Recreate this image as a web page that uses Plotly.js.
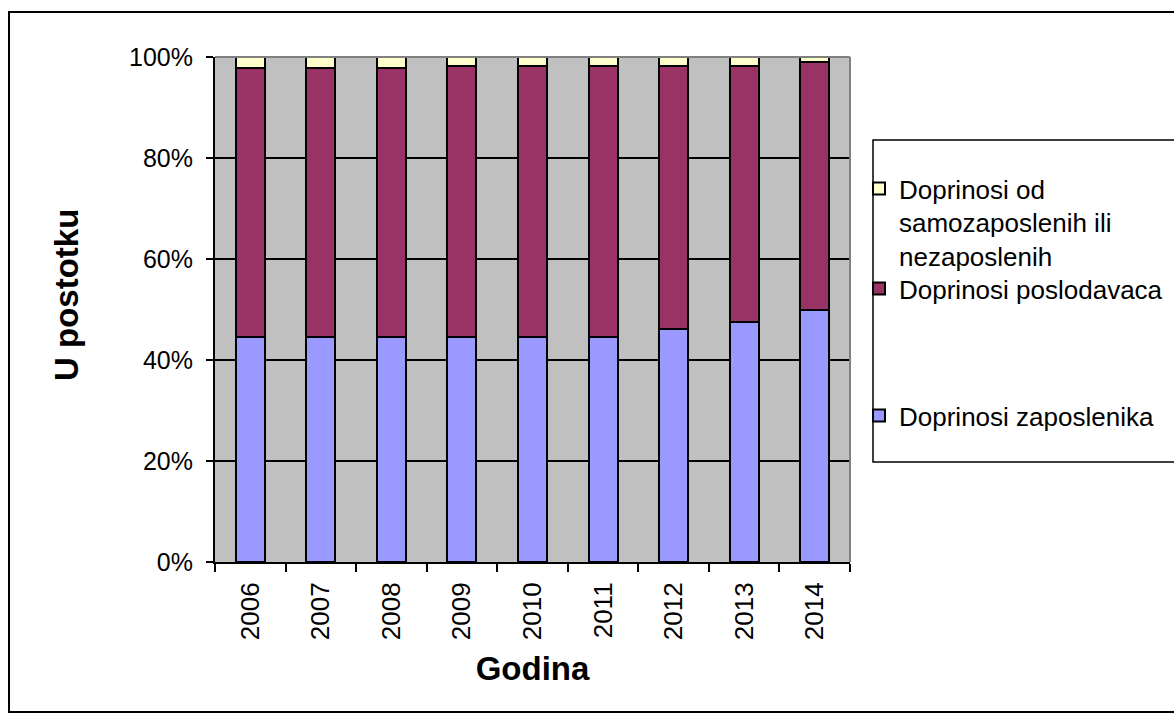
<!DOCTYPE html>
<html>
<head>
<meta charset="utf-8">
<script src="https://cdn.plot.ly/plotly-3.0.1.min.js"></script>
<style>
  html, body { margin: 0; padding: 0; background: #ffffff; }
  #chart { width: 1174px; height: 722px; }
</style>
</head>
<body>
<div id="chart"></div>
<script>
const years = ['2006', '2007', '2008', '2009', '2010', '2011', '2012', '2013', '2014'];
const employees = [44.5, 44.5, 44.5, 44.5, 44.5, 44.5, 46.2, 47.5, 49.9];
const employers = [53.3, 53.3, 53.3, 53.7, 53.7, 53.7, 52.0, 50.7, 49.2];
const selfEmployed = [2.2, 2.2, 2.2, 1.8, 1.8, 1.8, 1.8, 1.8, 0.9];
const yTickVals = [0, 20, 40, 60, 80, 100];
const yTickText = ['0%', '20%', '40%', '60%', '80%', '100%'];

const nameEmployees = 'Doprinosi zaposlenika';
const nameEmployers = 'Doprinosi poslodavaca';
const nameSelf = 'Doprinosi od<br>samozaposlenih ili<br>nezaposlenih';
const yTitle = 'U postotku';
const xTitle = 'Godina';

const FONT = 'Arial, "Liberation Sans", sans-serif';

// pixel geometry helpers
const L = 215, R = 850, T = 57, B = 562, W = 1174, H = 722;
const px = v => (v - L) / (R - L);
const py = v => (B - v) / (B - T);
const cx = v => v / W;
const cy = v => 1 - v / H;

const barLine = { color: '#000000', width: 2 };

const traces = [
  { type: 'bar', x: years, y: employees, name: nameEmployees,
    marker: { color: '#9999ff', line: barLine }, legend: 'legend3' },
  { type: 'bar', x: years, y: employers, name: nameEmployers,
    marker: { color: '#993366', line: barLine }, legend: 'legend2' },
  { type: 'bar', x: years, y: selfEmployed, name: nameSelf,
    marker: { color: '#ffffcc', line: barLine }, legend: 'legend' }
];

const legendBase = {
  xref: 'container', yref: 'container',
  xanchor: 'left', yanchor: 'top', bgcolor: 'rgba(0,0,0,0)',
  borderwidth: 0, font: { family: FONT, size: 26, color: '#000000' },
  valign: 'top', itemwidth: 30
};

const layout = {
  width: W, height: H,
  margin: { l: L, r: W - R, t: T, b: H - B },
  paper_bgcolor: '#ffffff',
  plot_bgcolor: '#c0c0c0',
  barmode: 'stack',
  bargap: 0.59,
  showlegend: true,
  font: { family: FONT, size: 24, color: '#000000' },
  xaxis: {
    type: 'category',
    tickangle: -90,
    ticks: 'outside', ticklen: 8, tickwidth: 2, tickcolor: '#000000',
    tickson: 'boundaries',
    showline: true, linecolor: '#000000', linewidth: 2,
    showgrid: false,
    tickfont: { family: FONT, size: 26 },
    ticklabelstandoff: 8,
    title: { text: xTitle, font: { family: FONT, size: 33, weight: 'bold' }, standoff: 18 },
    automargin: false
  },
  yaxis: {
    range: [0, 100],
    tickvals: yTickVals, ticktext: yTickText,
    ticks: 'outside', ticklen: 7, tickwidth: 2, tickcolor: '#000000',
    showline: true, linecolor: '#000000', linewidth: 2,
    showgrid: true, gridcolor: '#000000', gridwidth: 1.5,
    zeroline: false,
    tickfont: { family: FONT, size: 25 },
    ticklabelstandoff: 8,
    automargin: false
  },
  annotations: [
    { text: yTitle, xref: 'paper', yref: 'paper', x: px(66), y: py(295),
      xanchor: 'center', yanchor: 'middle', textangle: -90, showarrow: false,
      font: { family: FONT, size: 33, weight: 'bold', color: '#000000' } }
  ],
  legend: Object.assign({}, legendBase, { x: cx(859), y: cy(165) }),
  legend2: Object.assign({}, legendBase, { x: cx(859), y: cy(265) }),
  legend3: Object.assign({}, legendBase, { x: cx(859), y: cy(392) }),
  shapes: [
    // plot-area top and right edges (grey)
    { type: 'line', xref: 'paper', yref: 'paper', x0: 0, x1: 1, y0: 1, y1: 1,
      line: { color: '#808080', width: 2 } },
    { type: 'line', xref: 'paper', yref: 'paper', x0: 1, x1: 1, y0: 0, y1: 1,
      line: { color: '#808080', width: 2 } },
    // legend box
    { type: 'rect', xref: 'paper', yref: 'paper',
      x0: px(873), x1: px(1185), y0: py(462), y1: py(140),
      line: { color: '#000000', width: 1.5 }, fillcolor: 'rgba(0,0,0,0)' },
    // chart outer border
    { type: 'rect', xref: 'paper', yref: 'paper',
      x0: px(9), x1: px(1190), y0: py(712), y1: py(12),
      line: { color: '#000000', width: 2 }, fillcolor: 'rgba(0,0,0,0)' }
  ]
};

Plotly.newPlot('chart', traces, layout, { displayModeBar: false, staticPlot: true });
</script>
</body>
</html>
